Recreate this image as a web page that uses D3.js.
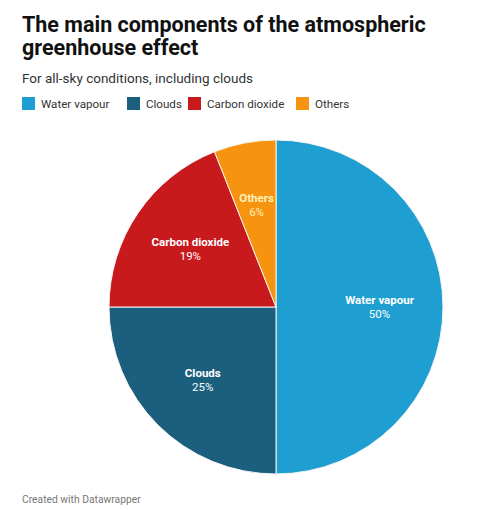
<!DOCTYPE html>
<html><head><meta charset="utf-8">
<script src="https://cdn.jsdelivr.net/npm/d3@7"></script>
<style>
body{margin:0;background:#fff;font-family:Roboto,"Noto Sans",sans-serif;}
</style></head>
<body><svg id="c" width="500" height="510"></svg>
<script>
const categories = ["Water vapour","Clouds","Carbon dioxide","Others"];
const values = [50,25,19,6];
const colors = ["#1f9fd1","#1b5e7d","#c8191d","#f6930f"];
const labelColors = ["#ffffff","#ffffff","#ffffff","#fff1b8"];

const svg = d3.select("#c");
svg.append("rect").attr("width",500).attr("height",510).attr("fill","#fff");

const title = svg.append("text").attr("x",22).attr("y",32)
  .attr("font-size",21.5).attr("font-weight",700).attr("fill","#111");
title.append("tspan").attr("x",22).text("The main components of the atmospheric");
title.append("tspan").attr("x",22).attr("dy",23).text("greenhouse effect");

svg.append("text").attr("x",22).attr("y",83).attr("font-size",13.5)
  .attr("fill","#333").text("For all-sky conditions, including clouds");

const legendX = [22,127,188,296];
const lg = svg.append("g");
categories.forEach((c,i)=>{
  lg.append("rect").attr("x",legendX[i]).attr("y",97).attr("width",13).attr("height",13).attr("fill",colors[i]);
  lg.append("text").attr("x",legendX[i]+19).attr("y",108).attr("font-size",11.6).attr("fill","#333").text(c);
});

const cx=276, cy=307, r=167;
const data = categories.map((c,i)=>({name:c,value:values[i],color:colors[i],lc:labelColors[i]}));
const pie = d3.pie().value(d=>d.value).sort(null);
const arc = d3.arc().innerRadius(0).outerRadius(r);
const labelArc = d3.arc().innerRadius(r*0.62).outerRadius(r*0.62);
const g = svg.append("g").attr("transform",`translate(${cx},${cy})`);
const arcs = pie(data);
g.selectAll("path").data(arcs).join("path").attr("d",arc)
  .attr("fill",d=>d.data.color).attr("stroke","#f4f4f4").attr("stroke-width",1);
const lab = g.selectAll("g.l").data(arcs).join("g").attr("class","l")
  .attr("transform",d=>{const [x,y]=labelArc.centroid(d);return `translate(${x},${y})`;});
lab.append("text").attr("text-anchor","middle").attr("y",-3).attr("font-size",11.5)
  .attr("font-weight",700).attr("fill",d=>d.data.lc).text(d=>d.data.name);
lab.append("text").attr("text-anchor","middle").attr("y",11).attr("font-size",11.5)
  .attr("fill",d=>d.data.lc).text(d=>d.data.value+"%");

svg.append("text").attr("x",22).attr("y",503).attr("font-size",10.3).attr("fill","#777")
  .text("Created with Datawrapper");
</script></body></html>
